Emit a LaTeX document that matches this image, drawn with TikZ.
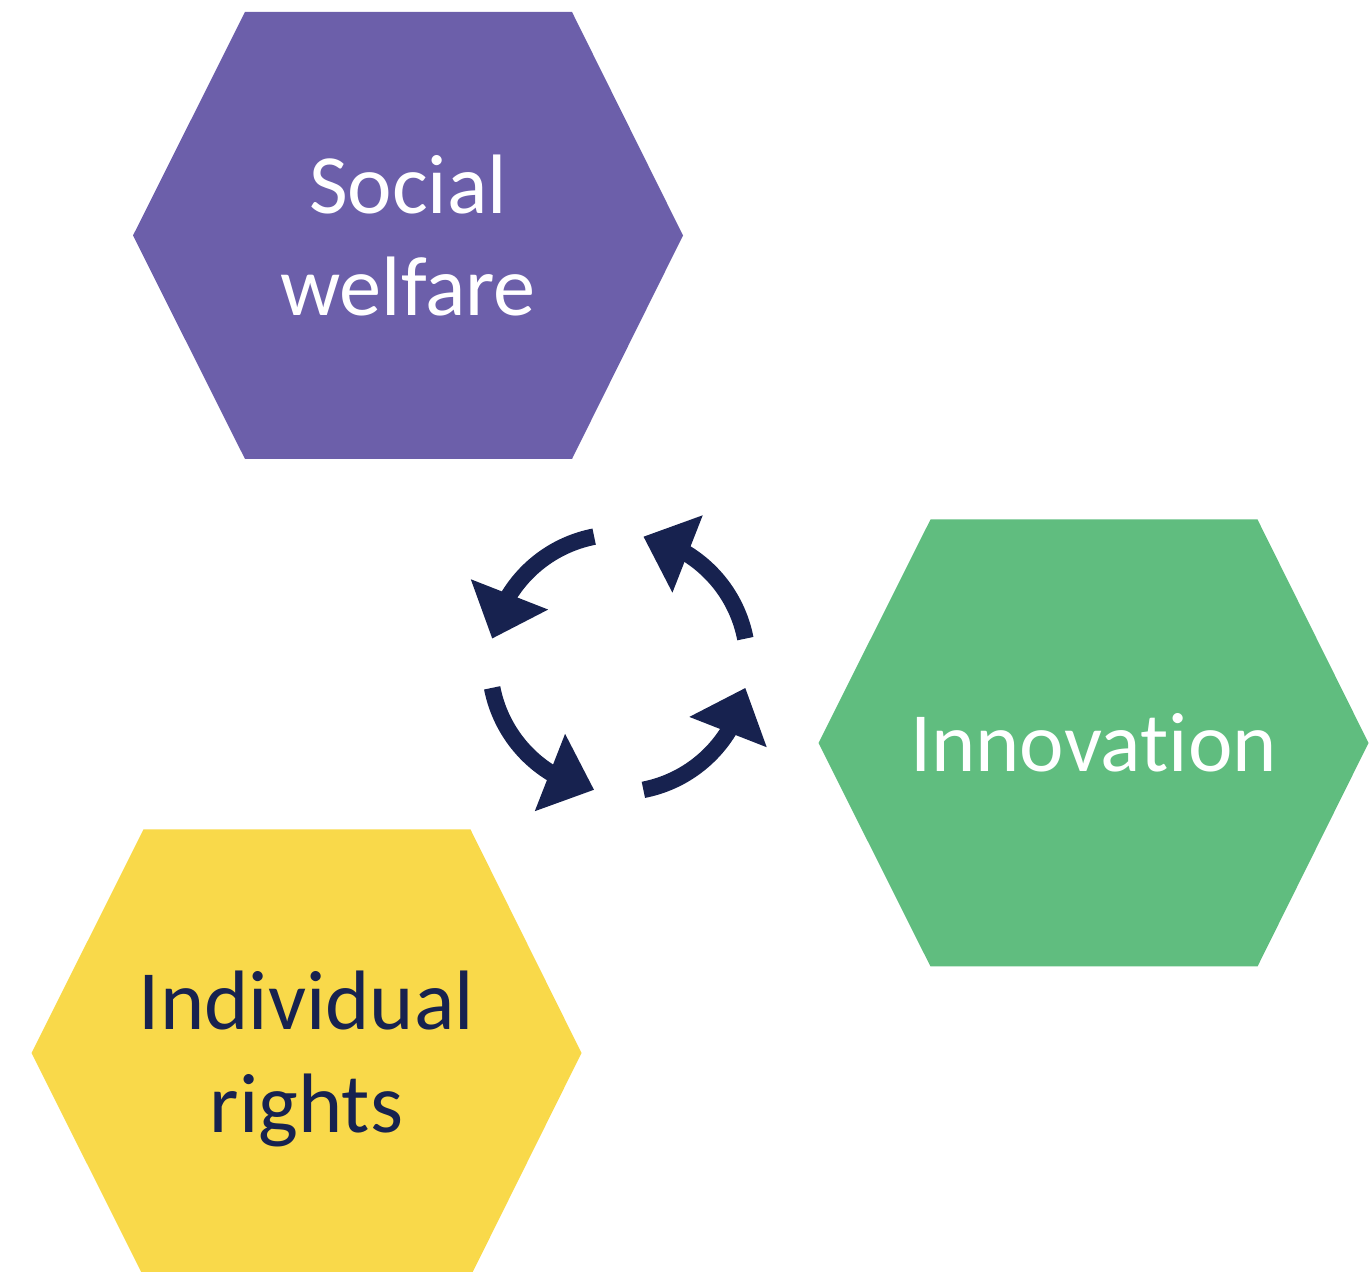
\documentclass[tikz,border=0pt]{standalone}
\usepackage{fontspec}
\setmainfont{Carlito}[Ligatures=NoCommon]
\usetikzlibrary{arrows.meta,bending}
\definecolor{welfarepurple}{RGB}{108,95,170}
\definecolor{innovgreen}{RGB}{96,189,127}
\definecolor{rightsyellow}{RGB}{249,217,74}
\definecolor{cyclenavy}{RGB}{23,34,79}

\begin{document}
\begin{tikzpicture}[x=0.02cm, y=0.02cm,
    hexlabel/.style={align=center, font=\fontsize{48}{58.5}\selectfont},
    cyclearrow/.style={cyclenavy, line width=0.33cm, -{Triangle[length=0.95cm, width=1.6cm]}}]
    \useasboundingbox (0,0) rectangle (1372,1271);

    % Social welfare
    \coordinate (welfare) at (408,1035.5);
    \fill[welfarepurple] (welfare) ++(-275,0) -- ++(112,223.5) -- ++(327,0) -- ++(111,-223.5)
        -- ++(-111,-223.5) -- ++(-327,0) -- cycle;
    \node[hexlabel, text=white] (welfarelabel) at (welfare) {Social\\welfare};

    % Innovation
    \coordinate (innov) at (1093.5,528);
    \fill[innovgreen] (innov) ++(-275,0) -- ++(112,223.5) -- ++(327,0) -- ++(111,-223.5)
        -- ++(-111,-223.5) -- ++(-327,0) -- cycle;
    \node[hexlabel, text=white] (innovlabel) at (innov) {Innovation};

    % Individual rights
    \coordinate (rights) at (306.5,218);
    \fill[rightsyellow] (rights) ++(-275,0) -- ++(112,223.5) -- ++(327,0) -- ++(111,-223.5)
        -- ++(-111,-223.5) -- ++(-327,0) -- cycle;
    \node[hexlabel, text=cyclenavy] (rightslabel) at ([yshift=-0.12cm]rights) {Individual\\rights};

    % Cycle in the middle
    \coordinate (hub) at (618.75,607.75);
    \foreach \a in {11,101,191,281} {
        \draw[cyclearrow] (hub) ++(\a:2.58cm) arc[start angle=\a, end angle=\a+68, radius=2.58cm];
    }
\end{tikzpicture}
\end{document}
